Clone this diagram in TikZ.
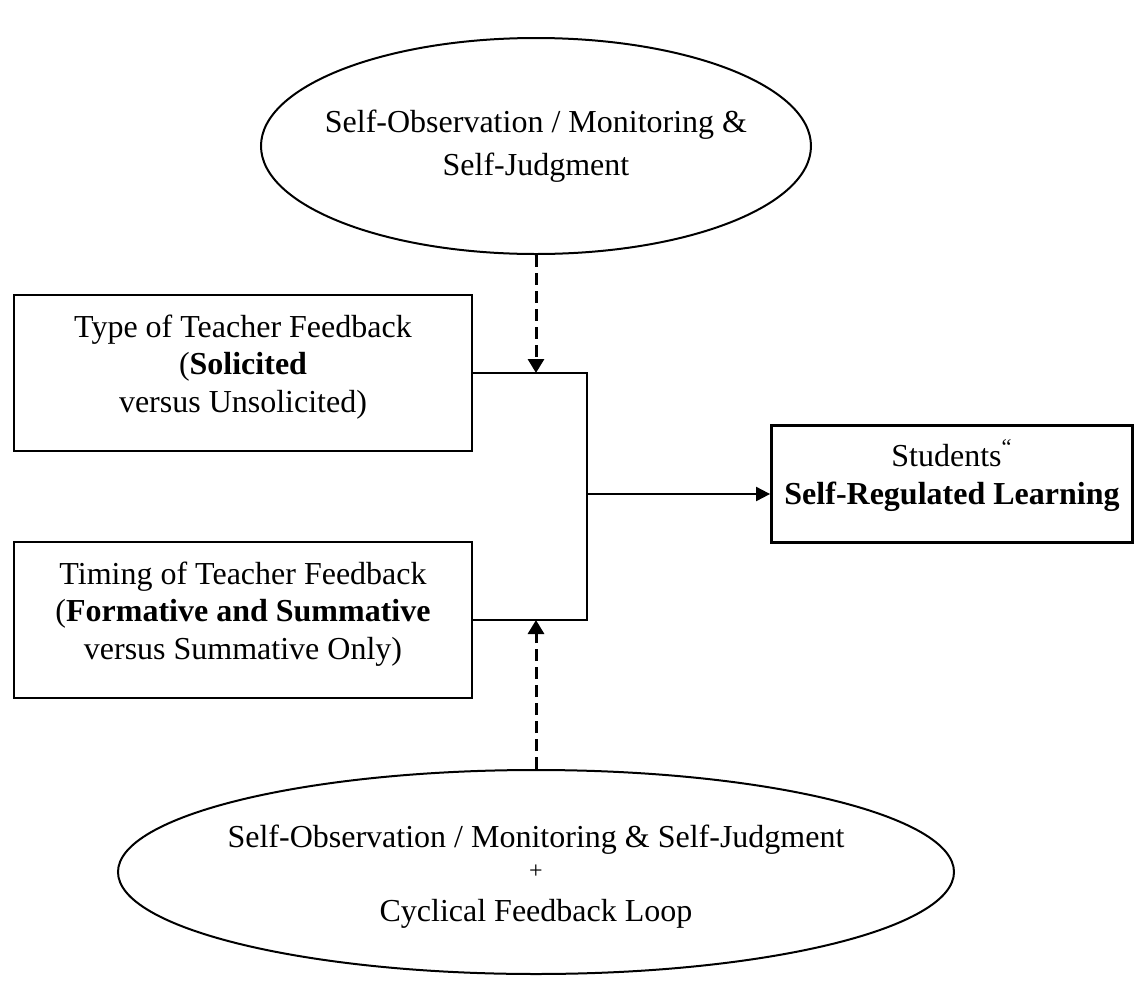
\documentclass[tikz,border=0pt]{standalone}
\usepackage{fontspec}
\setmainfont{Liberation Serif}
\usetikzlibrary{shapes.geometric,arrows.meta}

\begin{document}
\begin{tikzpicture}[x=0.5pt,y=-0.5pt,
        txt/.style={font=\fontsize{16}{18.75}\selectfont,align=center,inner sep=0pt},
        fbbox/.style={txt,draw,line width=1.4pt,minimum width=229pt,minimum height=78pt,text depth=9.5pt},
        oval/.style={ellipse,draw,line width=1pt,inner sep=0pt},
        link/.style={line width=0.7pt},
        dasharrow/.style={line width=1.5pt,dash pattern=on 6pt off 3pt,-{Triangle[width=8pt,length=7pt]}},
        srlarrow/.style={line width=1pt,-{Triangle[width=7pt,length=7pt]}}]
                    \useasboundingbox (0,0) rectangle (1137,997);
                    \node[oval,minimum width=275pt,minimum height=108pt] (selfobs) at (536,146) {};
                    \node[txt] (selfobstxt) at (selfobs)
                        {Self-Observation / Monitoring \&\\[3pt]Self-Judgment};
                    \node[fbbox] (typefb) at (243,373)
                        {Type of Teacher Feedback\\(\textbf{Solicited}\\versus Unsolicited)};
                    \node[fbbox] (timingfb) at (243,620)
                        {Timing of Teacher Feedback\\(\textbf{Formative and Summative}\\versus Summative Only)};
                    \node[fbbox,minimum width=180.5pt,minimum height=58.5pt,text depth=12pt] (srl) at (952,484)
                        {Students\textsuperscript{“}\\\textbf{Self-Regulated Learning}};
                    \node[oval,minimum width=418pt,minimum height=102pt] (cyclic) at (536,872) {};
                    \node[txt,yshift=-2.5pt] (cyclictxt) at (cyclic)
                        {Self-Observation / Monitoring \& Self-Judgment\\[-3.5pt]{\fontsize{12}{12}\selectfont +}\\[3pt]Cyclical Feedback Loop};
                    \coordinate (jn) at (587,494);
                    \draw[link] (typefb.east) -| (jn) |- (timingfb.east);
                    \draw[srlarrow] (jn) -- (srl.west |- jn);
                    \draw[dasharrow] (selfobs.south) -- (selfobs.south |- typefb.east);
                    \draw[dasharrow] (cyclic.north) -- (cyclic.north |- timingfb.east);
                \end{tikzpicture}
\end{document}
